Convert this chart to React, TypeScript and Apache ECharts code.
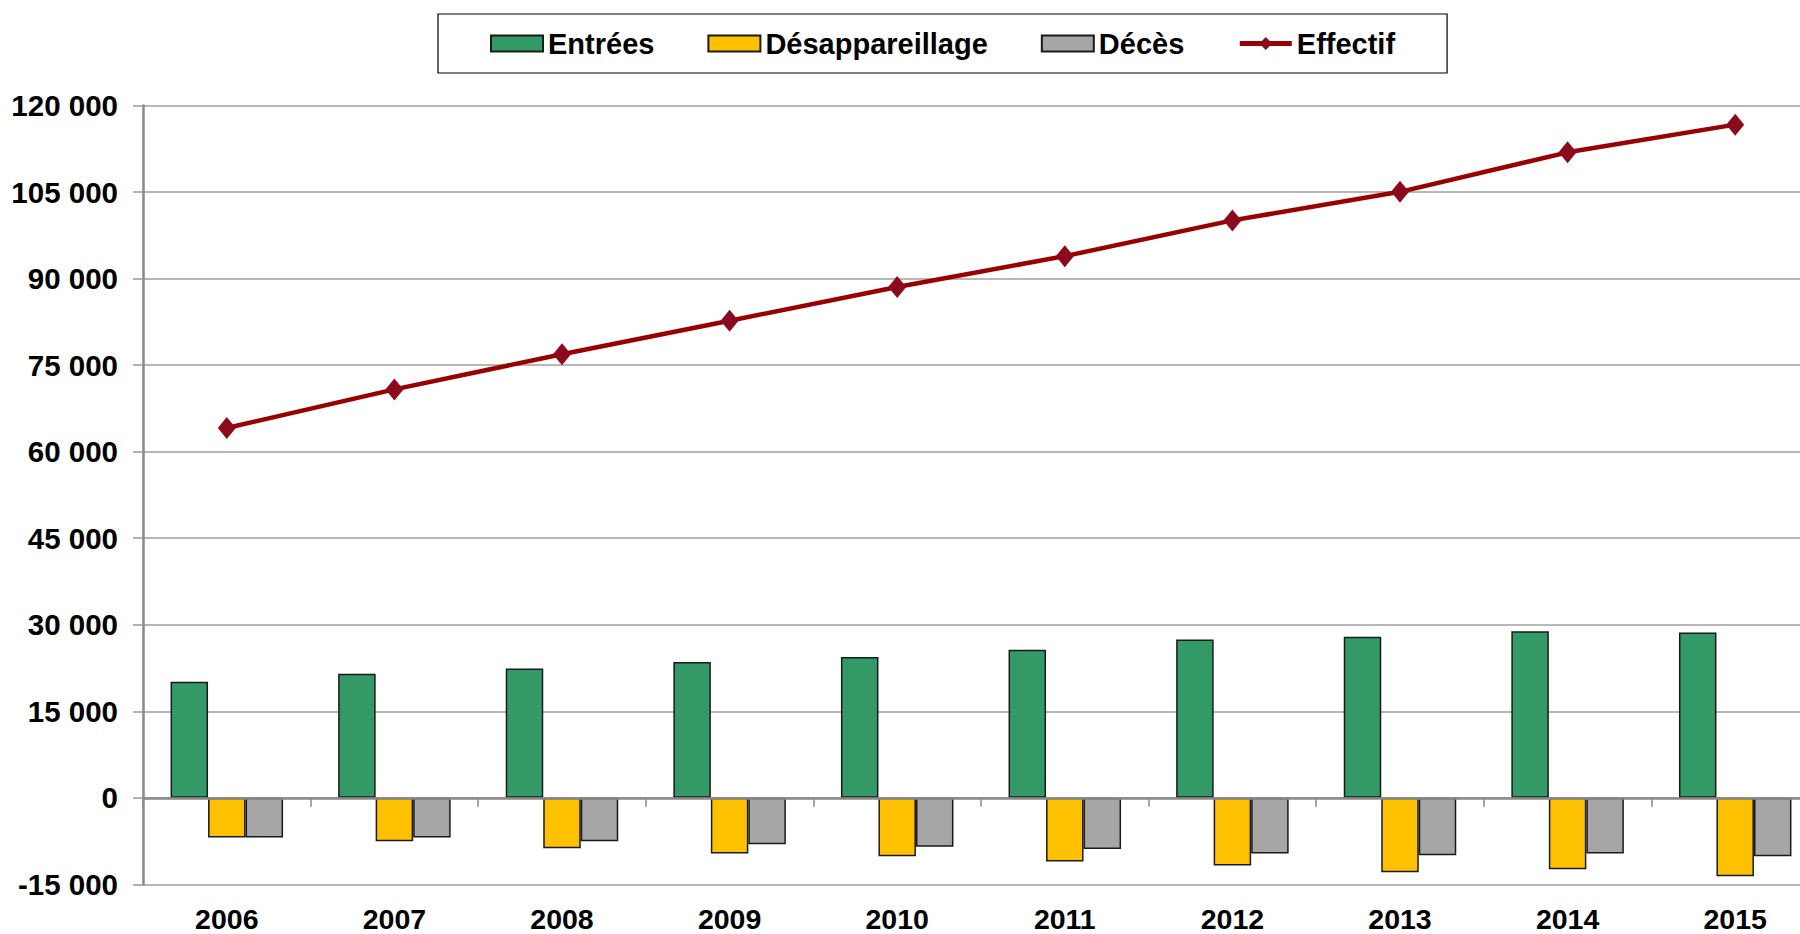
import React, { useEffect, useRef } from "react";
import * as echarts from "echarts";

const years = ["2006", "2007", "2008", "2009", "2010", "2011", "2012", "2013", "2014", "2015"];
const entrees = [20100, 21500, 22400, 23550, 24400, 25650, 27450, 27900, 28850, 28650];
const desappareillage = [-6900, -7550, -8750, -9650, -10150, -11050, -11750, -12900, -12400, -13600];
const deces = [-6900, -6900, -7550, -8050, -8500, -8900, -9650, -9950, -9650, -10150];
const effectif = [64100, 70800, 76900, 82700, 88550, 93900, 100100, 105050, 111900, 116700];

const yMin = -15000;
const yMax = 120000;
const yInterval = 15000;

const FONT = "'Liberation Sans', Arial, sans-serif";

function fmt(v: number): string {
  const s = Math.abs(v).toString().replace(/\B(?=(\d{3})+(?!\d))/g, " ");
  return (v < 0 ? "-" : "") + s;
}

export default function App() {
  const ref = useRef<HTMLDivElement>(null);
  useEffect(() => {
    if (!ref.current) return;
    const chart = echarts.init(ref.current, undefined, { renderer: "svg" });
    const barBorder = { borderColor: "#1a1a1a", borderWidth: 1.5 };
    chart.setOption({
      animation: false,
      backgroundColor: "#ffffff",
      textStyle: { fontFamily: FONT },
      legend: {
        left: 438,
        top: 14,
        padding: [15, 52, 15, 52],
        borderColor: "#000000",
        borderWidth: 1.2,
        itemWidth: 52,
        itemHeight: 16,
        itemGap: 53,
        lineStyle: { width: 5 },
        textStyle: { fontFamily: FONT, fontSize: 29, fontWeight: "bold", color: "#000000" },
        data: [
          { name: "Entrées", icon: "rect" },
          { name: "Désappareillage", icon: "rect" },
          { name: "Décès", icon: "rect" },
          { name: "Effectif" },
        ],
      },
      grid: {
        left: 143,
        width: 1676,
        top: 105.6,
        bottom: 49.7,
        containLabel: false,
        outerBoundsMode: "none",
      },
      xAxis: [
        {
          type: "category",
          data: years,
          position: "bottom",
          boundaryGap: true,
          axisLine: { show: true, onZero: true, lineStyle: { color: "#888888", width: 2.5 } },
          axisTick: { show: true, length: 9, lineStyle: { color: "#888888", width: 1.5 } },
          axisLabel: { show: false },
          splitLine: { show: false },
          z: 5,
        },
        {
          type: "category",
          data: years,
          position: "bottom",
          axisLine: { show: false, onZero: false },
          axisTick: { show: false },
          axisLabel: {
            show: true,
            margin: 20,
            fontFamily: FONT,
            fontSize: 28.5,
            fontWeight: "bold",
            color: "#000000",
          },
          splitLine: { show: false },
        },
      ],
      yAxis: {
        type: "value",
        min: yMin,
        max: yMax,
        interval: yInterval,
        axisLine: { show: true, lineStyle: { color: "#888888", width: 2.5 } },
        axisTick: { show: true, length: 10, lineStyle: { color: "#999999", width: 1.5 } },
        axisLabel: {
          margin: 25,
          fontFamily: FONT,
          fontSize: 29.5,
          fontWeight: "bold",
          color: "#000000",
          formatter: (v: number) => fmt(v),
        },
        splitLine: { show: true, lineStyle: { color: "#a0a0a0", width: 1.5 } },
      },
      series: [
        {
          name: "Entrées",
          type: "bar",
          xAxisIndex: 0,
          data: entrees,
          barWidth: 37.5,
          barGap: "0%",
          itemStyle: { color: "#339966", ...barBorder },
        },
        {
          name: "Désappareillage",
          type: "bar",
          xAxisIndex: 0,
          data: desappareillage,
          barWidth: 37.5,
          barGap: "0%",
          itemStyle: { color: "#ffc000", ...barBorder },
        },
        {
          name: "Décès",
          type: "bar",
          xAxisIndex: 0,
          data: deces,
          barWidth: 37.5,
          barGap: "0%",
          itemStyle: { color: "#a6a6a6", ...barBorder },
        },
        {
          name: "Effectif",
          type: "line",
          xAxisIndex: 0,
          data: effectif,
          symbol: "diamond",
          symbolSize: [18, 22],
          lineStyle: { color: "#990000", width: 4.5 },
          itemStyle: { color: "#8b0a1e", borderWidth: 0 },
          z: 10,
        },
      ],
    });
    return () => chart.dispose();
  }, []);
  return (
    <div
      ref={ref}
      style={{ position: "fixed", left: 0, top: 0, width: 1800, height: 934, background: "#fff" }}
    />
  );
}
